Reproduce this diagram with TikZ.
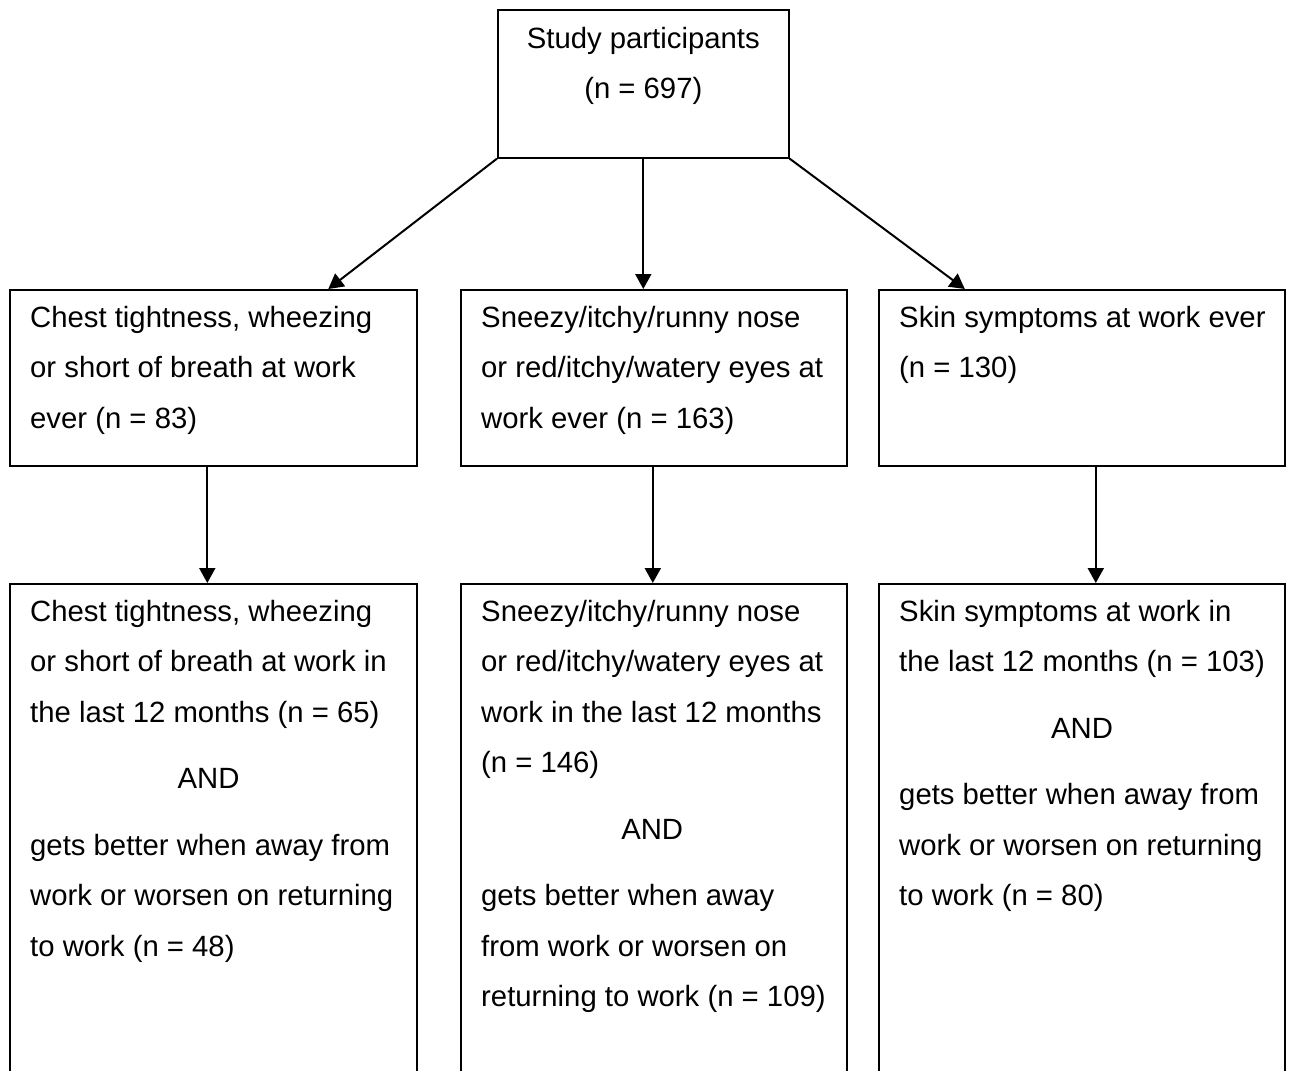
\documentclass[tikz,border=0pt]{standalone}
\usepackage{fontspec}
\setmainfont{Liberation Sans}
\usetikzlibrary{arrows.meta, positioning}
\tikzset{
  box/.style={draw, line width=1.6pt, anchor=north west, inner sep=0pt},
  txt/.style={anchor=north west, inner sep=0pt, align=left, font=\fontsize{29.3}{50.5}\selectfont},
  arr/.style={line width=2pt, -{Triangle[length=15pt, width=16pt]}}
}

\begin{document}
\begin{tikzpicture}[x=1pt, y=-1pt]
  \useasboundingbox (0,0) rectangle (1292,1070);
  \clip (0,0) rectangle (1292,1070);
  % boxes
  \node[box, minimum width=291pt, minimum height=148pt] (top) at (497,9) {};
  \foreach \n/\x/\w in {1/9/407, 2/460/386, 3/878/406}{
     \node[box, minimum width=\w pt, minimum height=176pt] (c\n) at (\x,289) {};
     \node[box, minimum width=\w pt, minimum height=500pt] (d\n) at (\x,583) {};}
  % texts
  \node[txt, anchor=north, align=center] (topt) at ([yshift=-18pt]top.north) {Study participants\\(n = 697)};
  \node[txt] (c1t) at ([shift={(21pt,-17pt)}]c1.north west) {Chest tightness, wheezing\\or short of breath at work\\ever (n = 83)};
  \node[txt] (c2t) at ([shift={(21pt,-17pt)}]c2.north west) {Sneezy/itchy/runny nose\\or red/itchy/watery eyes at\\work ever (n = 163)};
  \node[txt] (c3t) at ([shift={(21pt,-17pt)}]c3.north west) {Skin symptoms at work ever\\(n = 130)};
  \node[txt] (d1t) at ([shift={(21pt,-17pt)}]d1.north west) {Chest tightness, wheezing\\or short of breath at work in\\the last 12 months (n = 65)\\[16pt]\hfill AND\hfill\null\\[16pt]gets better when away from\\work or worsen on returning\\to work (n = 48)};
  \node[txt] (d2t) at ([shift={(21pt,-17pt)}]d2.north west) {Sneezy/itchy/runny nose\\or red/itchy/watery eyes at\\work in the last 12 months\\(n = 146)\\[16pt]\hfill AND\hfill\null\\[16pt]gets better when away\\from work or worsen on\\returning to work (n = 109)};
  \node[txt] (d3t) at ([shift={(21pt,-17pt)}]d3.north west) {Skin symptoms at work in\\the last 12 months (n = 103)\\[16pt]\hfill AND\hfill\null\\[16pt]gets better when away from\\work or worsen on returning\\to work (n = 80)};
  % arrows
  \draw[arr] (top.south west) -- ([xshift=115pt]c1.north);
  \draw[arr] (top.south) -- (top.south |- c2.north);
  \draw[arr] (top.south east) -- ([xshift=-117pt]c3.north);
  \draw[arr] ([xshift=-6pt]c1.south) -- ([xshift=-6pt]d1.north);
  \draw[arr] ([xshift=-1pt]c2.south) -- ([xshift=-1pt]d2.north);
  \draw[arr] ([xshift=14pt]c3.south) -- ([xshift=14pt]d3.north);
\end{tikzpicture}
\end{document}
